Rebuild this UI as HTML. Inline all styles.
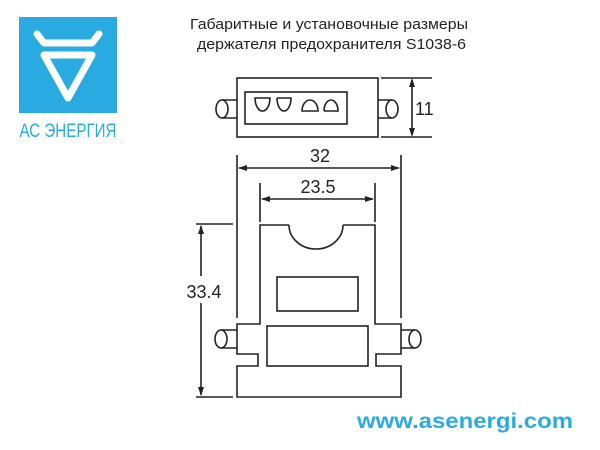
<!DOCTYPE html>
<html><head><meta charset="utf-8"><style>
html,body{margin:0;padding:0;background:#fff;}
svg{display:block;}
</style></head><body>
<svg width="600" height="450" viewBox="0 0 600 450" xmlns="http://www.w3.org/2000/svg">
<rect width="600" height="450" fill="#fff"/>
<!-- logo -->
<rect x="19" y="17" width="98" height="96" fill="#29abe2"/>
<path d="M37 34 L44 43 L92 43 L99 34" stroke="#fff" stroke-width="7" fill="none" stroke-linejoin="round" stroke-linecap="round"/>
<path d="M44 55 L92 55 L68 98 Z" stroke="#fff" stroke-width="7" fill="none" stroke-linejoin="round"/>
<text x="68" y="137" text-anchor="middle" font-family="Liberation Sans, sans-serif" font-size="19" fill="#29abe2" textLength="97" lengthAdjust="spacingAndGlyphs">АС ЭНЕРГИЯ</text>
<!-- title -->
<g font-family="Liberation Sans, sans-serif" font-size="15" fill="#222">
<text x="190" y="29" textLength="278" lengthAdjust="spacingAndGlyphs">Габаритные и установочные размеры</text>
<text x="197" y="49" textLength="269" lengthAdjust="spacingAndGlyphs">держателя предохранителя S1038-6</text>
</g>
<g stroke="#222" stroke-width="1.6" fill="none">
<!-- top view -->
<rect x="237" y="78" width="141" height="59"/>
<rect x="245" y="92" width="102" height="32"/>
<path d="M255 98 L270 98 A7.5 13 0 0 1 255 98 Z"/>
<path d="M277 98 L291 98 A7 13 0 0 1 277 98"/>
<path d="M302 111 L318 111 A8 11 0 0 0 302 111 Z"/>
<path d="M324 111 L338 111 A7 11 0 0 0 324 111"/>
<path d="M222 100 L237 100 M222 118 L237 118"/>
<ellipse cx="222" cy="109" rx="6" ry="9"/>
<path d="M378 100 L392 100 M378 118 L392 118"/>
<ellipse cx="392" cy="109" rx="6" ry="9"/>
<path d="M381 78 L432 78 M381 137 L432 137 M412 80 L412 135"/>
<!-- dims -->
<path d="M237 155 L237 318 M401 155 L401 318 M239 168 L399 168"/>
<path d="M260 183 L260 222 M375 183 L375 222 M262 199 L373 199"/>
<path d="M196 224 L233 224 M196 397 L233 397 M201 226 L201 276 M201 303 L201 395"/>
<!-- front view -->
<path d="M289 225 L260 225 L260 324 L237 324 L237 354 L258 354 L258 366 L237 366 L237 397 L401 397 L401 366 L376 366 L376 354 L401 354 L401 324 L375 324 L375 225 L343 225"/>
<path d="M289 225 A27 24 0 0 0 343 225"/>
<rect x="277" y="277" width="81" height="34"/>
<rect x="267" y="326" width="101" height="40"/>
<path d="M221 330 L237 330 M221 348 L237 348"/>
<ellipse cx="221" cy="339" rx="6" ry="9"/>
<path d="M401 330 L415 330 M401 348 L415 348"/>
<ellipse cx="415" cy="339" rx="6" ry="9"/>
</g>
<g fill="#222">
<path d="M412 78 L409 87 L415 87 Z M412 137 L409 128 L415 128 Z"/>
<path d="M238 168 L247 165 L247 171 Z M400 168 L391 165 L391 171 Z"/>
<path d="M261 199 L270 196 L270 202 Z M374 199 L365 196 L365 202 Z"/>
<path d="M201 225 L198 234 L204 234 Z M201 396 L198 387 L204 387 Z"/>
</g>
<g font-family="Liberation Sans, sans-serif" font-size="18" fill="#222">
<text x="415" y="115">11</text>
<text x="320" y="162" text-anchor="middle">32</text>
<text x="318" y="193" text-anchor="middle">23.5</text>
<text x="204" y="298" text-anchor="middle">33.4</text>
</g>
<text x="357" y="428" font-family="Liberation Sans, sans-serif" font-weight="bold" font-size="21" fill="#29abe2" textLength="216" lengthAdjust="spacingAndGlyphs">www.asenergi.com</text>
</svg>
</body></html>
